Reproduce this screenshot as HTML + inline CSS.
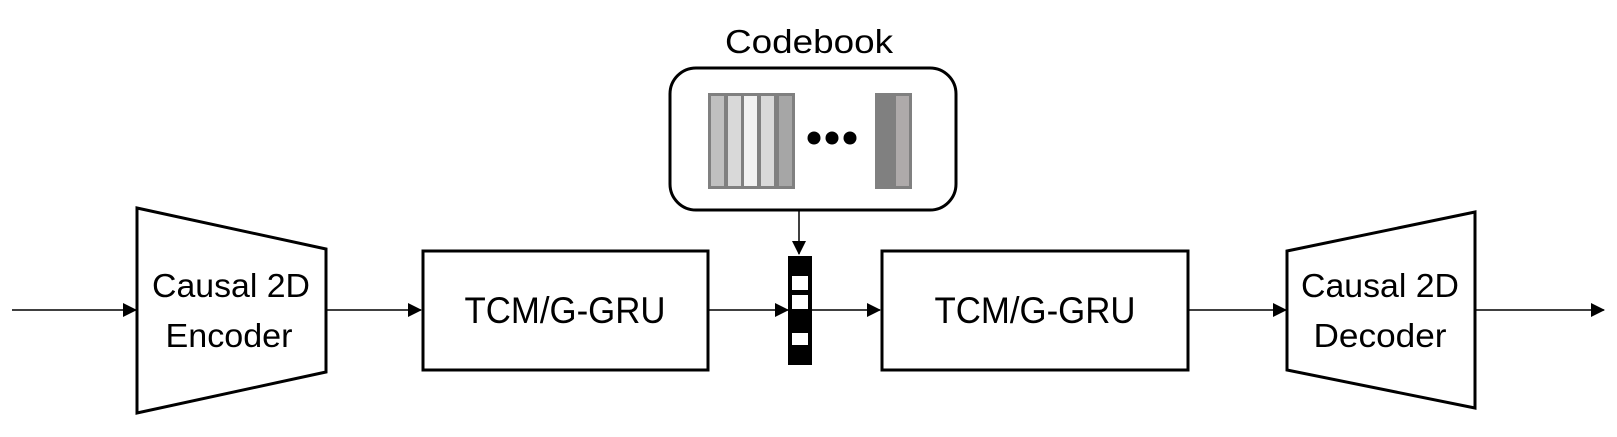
<!DOCTYPE html>
<html><head><style>html,body{margin:0;padding:0;background:#fff}svg{display:block}</style></head>
<body>
<svg width="1617" height="437" viewBox="0 0 1617 437" xmlns="http://www.w3.org/2000/svg" font-family="'Liberation Sans', sans-serif">
<defs>
<marker id="a" markerWidth="14" markerHeight="14" refX="13" refY="7" orient="auto" markerUnits="userSpaceOnUse">
<path d="M0,0 L14,7 L0,14 z" fill="#000"/>
</marker>
</defs>
<g stroke="#000" stroke-width="1.5" fill="none" marker-end="url(#a)">
<line x1="12" y1="310" x2="136" y2="310"/>
<line x1="327" y1="310" x2="421" y2="310"/>
<line x1="709" y1="310" x2="788" y2="310"/>
<line x1="812" y1="310" x2="880" y2="310"/>
<line x1="1189" y1="310" x2="1286" y2="310"/>
<line x1="1476" y1="310" x2="1604" y2="310"/>
<line x1="799" y1="211" x2="799" y2="254"/>
</g>
<g stroke="#000" stroke-width="3" fill="#fff">
<polygon points="137,208 326,249 326,372 137,413"/>
<rect x="423" y="251" width="285" height="119"/>
<rect x="882" y="251" width="306" height="119"/>
<polygon points="1287,251 1475,212 1475,408 1287,370"/>
<rect x="670" y="68" width="286" height="142" rx="26"/>
</g>
<rect x="708" y="93" width="87" height="96" fill="#808080"/>
<rect x="711" y="96" width="13" height="90" fill="#c0c0c0"/>
<rect x="728" y="96" width="13" height="90" fill="#d9d9d9"/>
<rect x="744" y="96" width="13" height="90" fill="#f2f2f2"/>
<rect x="761" y="96" width="13" height="90" fill="#d9d9d9"/>
<rect x="779" y="96" width="13" height="90" fill="#a6a6a6"/>
<circle cx="814" cy="138" r="6.5"/>
<circle cx="832" cy="138" r="6.5"/>
<circle cx="850" cy="138" r="6.5"/>
<rect x="875" y="93" width="37" height="96" fill="#808080"/>
<rect x="896" y="96" width="13" height="90" fill="#aeaaaa"/>
<rect x="788" y="256" width="24" height="109" fill="#000"/>
<rect x="792" y="276" width="16" height="14" fill="#fff"/>
<rect x="792" y="295" width="16" height="14" fill="#fff"/>
<rect x="792" y="333" width="16" height="12" fill="#fff"/>
<g font-size="33" fill="#000" text-anchor="middle">
<text x="809" y="53" textLength="168" lengthAdjust="spacingAndGlyphs">Codebook</text>
<text x="231" y="297" textLength="158" lengthAdjust="spacingAndGlyphs">Causal 2D</text>
<text x="229" y="347" textLength="127" lengthAdjust="spacingAndGlyphs">Encoder</text>
<text x="1380" y="297" textLength="158" lengthAdjust="spacingAndGlyphs">Causal 2D</text>
<text x="1380" y="347" textLength="133" lengthAdjust="spacingAndGlyphs">Decoder</text>
<text x="565" y="323" font-size="37" textLength="201" lengthAdjust="spacingAndGlyphs">TCM/G-GRU</text>
<text x="1035" y="323" font-size="37" textLength="201" lengthAdjust="spacingAndGlyphs">TCM/G-GRU</text>
</g>
</svg>
</body></html>
